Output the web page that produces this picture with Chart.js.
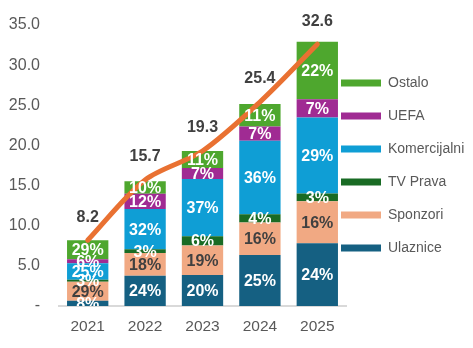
<!DOCTYPE html>
<html>
<head>
<meta charset="utf-8">
<script src="https://cdn.jsdelivr.net/npm/chart.js@4"></script>
<style>
html, body { margin: 0; padding: 0; background: #fff; }
#wrap { width: 473px; height: 348px; }
</style>
</head>
<body>
<div id="wrap"><canvas id="chart"></canvas></div>
<script>
// data (totals in mil., shares in %)
var years = ['2021', '2022', '2023', '2024', '2025'];
var totals = [8.2, 15.7, 19.3, 25.4, 32.6];
var ulaznice = [8, 24, 20, 25, 24];
var sponzori = [29, 18, 19, 16, 16];
var tvPrava = [3, 3, 6, 4, 3];
var komercijalni = [25, 32, 37, 36, 29];
var uefa = [6, 12, 7, 7, 7];
var ostalo = [29, 10, 11, 11, 22];

function part(shares) {
    return shares.map(function (p, i) { return totals[i] * p / 100; });
}

function bar(label, shares, color, textColor) {
    return {
        type: 'bar',
        label: label,
        data: part(shares),
        shares: shares,
        textColor: textColor,
        backgroundColor: color,
        borderWidth: 0,
        stack: 'rev',
        order: 1,
        categoryPercentage: 0.72,
        barPercentage: 1
    };
}

var FONT = '"Liberation Sans", Arial, sans-serif';

// percentages inside the bars and totals above the line
var labelPlugin = {
    id: 'labels',
    afterDatasetsDraw: function (chart) {
        var ctx = chart.ctx;
        var area = chart.chartArea;
        ctx.save();
        ctx.font = 'bold 16px ' + FONT;
        ctx.textAlign = 'center';
        ctx.textBaseline = 'middle';
        ctx.beginPath();
        ctx.rect(0, 0, chart.width, area.bottom);
        ctx.clip();
        chart.data.datasets.forEach(function (ds, di) {
            if (ds.type !== 'bar') return;
            var meta = chart.getDatasetMeta(di);
            meta.data.forEach(function (el, i) {
                ctx.fillStyle = ds.textColor;
                ctx.fillText(ds.shares[i] + '%', el.x, (el.y + el.base) / 2 + 1);
            });
        });
        ctx.restore();

        ctx.save();
        ctx.font = 'bold 16px ' + FONT;
        ctx.textAlign = 'center';
        ctx.textBaseline = 'middle';
        ctx.fillStyle = '#404040';
        var lineIdx = chart.data.datasets.length - 1;
        chart.getDatasetMeta(lineIdx).data.forEach(function (pt, i) {
            ctx.fillText(totals[i].toFixed(1), pt.x, pt.y - 23);
        });
        ctx.restore();
    }
};

var legendShift = {
    id: 'legendShift',
    afterLayout: function (chart) {
        var lg = chart.legend;
        lg.left -= 24;
        lg.width += 24;
        lg.top -= 21; lg.bottom -= 21;
    }
};

var ctx = document.getElementById('chart').getContext('2d');
var myChart = new Chart(ctx, {
    data: {
        labels: years,
        datasets: [
            bar('Ulaznice', ulaznice, '#156082', '#ffffff'),
            bar('Sponzori', sponzori, '#F1A983', '#404040'),
            bar('TV Prava', tvPrava, '#196B24', '#ffffff'),
            bar('Komercijalni', komercijalni, '#0F9ED5', '#ffffff'),
            bar('UEFA', uefa, '#A02B93', '#ffffff'),
            bar('Ostalo', ostalo, '#4EA72E', '#ffffff'),
            {
                type: 'line',
                label: 'Ukupno',
                data: totals,
                stack: 'total',
                order: 0,
                borderColor: '#E97132',
                borderWidth: 5,
                borderCapStyle: 'round',
                pointRadius: 0,
                tension: 0.3,
                fill: false
            }
        ]
    },
    options: {
        responsive: true,
        maintainAspectRatio: false,
        animation: false,
        layout: { padding: { top: 25, left: 0, right: 0, bottom: 0 } },
        plugins: {
            tooltip: { enabled: false },
            legend: {
                position: 'right',
                reverse: true,
                maxWidth: 127,
                labels: {
                    boxWidth: 40,
                    boxHeight: 7,
                    padding: 19,
                    color: '#595959',
                    font: { family: FONT, size: 14 },
                    filter: function (item) { return item.text !== 'Ukupno'; }
                }
            }
        },
        scales: {
            x: {
                stacked: true,
                grid: { display: false, drawTicks: false },
                border: { color: '#d9d9d9', width: 2 },
                ticks: { color: '#595959', font: { family: FONT, size: 15.5 }, padding: 11 },
                afterFit: function (s) { s.height = 42; }
            },
            y: {
                stacked: true,
                min: 0,
                max: 35,
                grid: { display: false, drawTicks: false },
                border: { display: false },
                ticks: {
                    stepSize: 5,
                    padding: 19,
                    color: '#595959',
                    font: { family: FONT, size: 16 },
                    callback: function (v) { return v === 0 ? '-' : v.toFixed(1); }
                },
                afterFit: function (s) {
                    s.width = 59;
                    s.paddingTop = 0;
                    s.paddingBottom = 0;
                }
            }
        }
    },
    plugins: [labelPlugin, legendShift]
});
</script>
</body>
</html>
